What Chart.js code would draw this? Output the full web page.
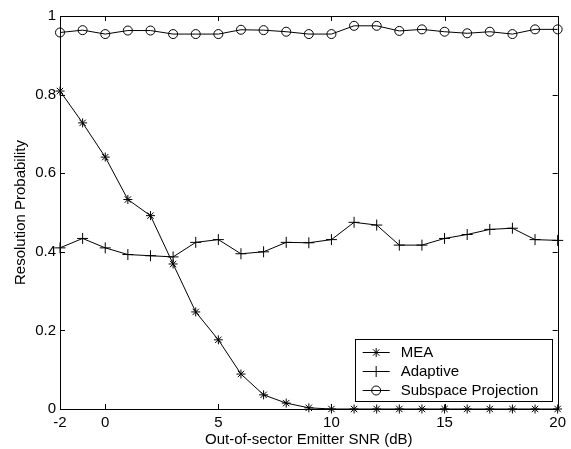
<!DOCTYPE html>
<html>
<head>
<meta charset="utf-8">
<script src="https://cdn.jsdelivr.net/npm/chart.js@4/dist/chart.umd.min.js"></script>
<style>
  html, body { margin: 0; padding: 0; background: #ffffff; }
  #wrap { width: 571px; height: 449px; }
</style>
</head>
<body>
<div id="wrap"><canvas id="c" width="571" height="449"></canvas></div>
<script>
const snr = [-2, -1, 0, 1, 2, 3, 4, 5, 6, 7, 8, 9, 10, 11, 12, 13, 14, 15, 16, 17, 18, 19, 20];
const mea = [0.809, 0.728, 0.641, 0.533, 0.492, 0.369, 0.247, 0.176, 0.089, 0.036, 0.015, 0.003, 0, 0, 0, 0, 0, 0, 0, 0, 0, 0, 0];
const adaptive = [0.410, 0.434, 0.410, 0.393, 0.390, 0.387, 0.424, 0.431, 0.395, 0.400, 0.424, 0.423, 0.431, 0.475, 0.468, 0.417, 0.417, 0.434, 0.444, 0.457, 0.460, 0.431, 0.429];
const subspace = [0.958, 0.964, 0.954, 0.963, 0.963, 0.954, 0.954, 0.954, 0.965, 0.964, 0.960, 0.954, 0.954, 0.975, 0.975, 0.962, 0.966, 0.960, 0.956, 0.960, 0.954, 0.966, 0.966];
const seriesNames = ['MEA', 'Adaptive', 'Subspace Projection'];
const xTicks = [-2, 0, 5, 10, 15, 20];
const yTicks = [0, 0.2, 0.4, 0.6, 0.8, 1];
const yTickLabels = ['0', '0.2', '0.4', '0.6', '0.8', '1'];
const xTitle = 'Out-of-sector Emitter SNR (dB)';
const yTitle = 'Resolution Probability';

const FONT = "'Liberation Sans', Arial, sans-serif";
const toXY = (vals) => snr.map((x, i) => ({ x: x, y: vals[i] }));

const styles = [
  { pointStyle: 'star', radius: 4.5 },
  { pointStyle: 'cross', radius: 5.5 },
  { pointStyle: 'circle', radius: 4.5 }
];

const frameTicks = {
  id: 'frameTicks',
  afterDatasetsDraw(chart) {
    const ctx = chart.ctx;
    const a = chart.chartArea;
    const xs = chart.scales.x, ys = chart.scales.y;
    ctx.save();
    ctx.strokeStyle = '#000';
    ctx.lineWidth = 1;
    ctx.strokeRect(Math.round(a.left) + 0.5, Math.round(a.top) + 0.5, Math.round(a.right - a.left), Math.round(a.bottom - a.top));
    const L = 5;
    ctx.beginPath();
    xTicks.forEach(v => {
      const px = Math.round(xs.getPixelForValue(v)) + 0.5;
      ctx.moveTo(px, a.bottom); ctx.lineTo(px, a.bottom - L);
      ctx.moveTo(px, a.top); ctx.lineTo(px, a.top + L);
    });
    yTicks.forEach(v => {
      const py = Math.round(ys.getPixelForValue(v)) + 0.5;
      ctx.moveTo(a.left, py); ctx.lineTo(a.left + L, py);
      ctx.moveTo(a.right, py); ctx.lineTo(a.right - L, py);
    });
    ctx.stroke();
    ctx.restore();
  }
};

const boxLegend = {
  id: 'boxLegend',
  afterDraw(chart) {
    const ctx = chart.ctx;
    const a = chart.chartArea;
    const right = a.right - 6, bottom = a.bottom - 8;
    const w = 197, h = 62;
    const left = right - w, top = bottom - h;
    ctx.save();
    ctx.fillStyle = '#fff';
    ctx.fillRect(left, top, w, h);
    ctx.strokeStyle = '#000';
    ctx.lineWidth = 1;
    ctx.strokeRect(Math.round(left) + 0.5, Math.round(top) + 0.5, w, h);
    ctx.font = '15px ' + FONT;
    ctx.textBaseline = 'middle';
    ctx.textAlign = 'left';
    seriesNames.forEach((name, i) => {
      const y = Math.round(top + 13 + i * 19) + 0.5;
      ctx.strokeStyle = '#000';
      ctx.beginPath();
      ctx.moveTo(left + 8, y); ctx.lineTo(left + 35, y);
      ctx.stroke();
      ctx.fillStyle = 'rgba(0,0,0,0)';
      Chart.helpers.drawPoint(ctx, { pointStyle: styles[i].pointStyle, radius: styles[i].radius, rotation: 0, borderWidth: 1 }, left + 21.5, y);
      ctx.fillStyle = '#000';
      ctx.fillText(name, left + 46, y + 0.5);
    });
    ctx.restore();
  }
};

const mk = (label, vals, st) => ({
  label: label,
  data: toXY(vals),
  borderColor: '#000',
  backgroundColor: 'rgba(0,0,0,0)',
  borderWidth: 1,
  pointStyle: st.pointStyle,
  pointRadius: st.radius,
  pointBorderColor: '#000',
  pointBackgroundColor: 'rgba(0,0,0,0)',
  pointBorderWidth: 1,
  tension: 0,
  clip: false
});

new Chart(document.getElementById('c'), {
  type: 'line',
  data: {
    datasets: [
      mk(seriesNames[0], mea, styles[0]),
      mk(seriesNames[1], adaptive, styles[1]),
      mk(seriesNames[2], subspace, styles[2])
    ]
  },
  options: {
    responsive: false,
    animation: false,
    events: [],
    layout: { padding: { top: 16, right: 13, left: 0, bottom: 0 } },
    plugins: { legend: { display: false }, tooltip: { enabled: false } },
    scales: {
      x: {
        type: 'linear',
        min: -2, max: 20,
        afterBuildTicks: (s) => { s.ticks = xTicks.map(v => ({ value: v })); },
        afterFit: (s) => { s.height = 40; },
        grid: { display: false, drawTicks: false },
        border: { display: true, color: '#000' },
        ticks: { color: '#000', font: { family: FONT, size: 15 }, padding: 5, maxRotation: 0, autoSkip: false,
                 callback: (v) => String(v) },
        title: { display: true, text: xTitle, color: '#000', font: { family: FONT, size: 15 }, padding: { top: 0, bottom: 0 } }
      },
      y: {
        type: 'linear',
        min: 0, max: 1,
        afterBuildTicks: (s) => { s.ticks = yTicks.map(v => ({ value: v })); },
        afterFit: (s) => { s.width = 60; },
        grid: { display: false, drawTicks: false },
        border: { display: true, color: '#000' },
        ticks: { color: '#000', font: { family: FONT, size: 15 }, padding: 4, autoSkip: false,
                 callback: (v) => { const i = yTicks.indexOf(v); return i >= 0 ? yTickLabels[i] : ''; } },
        title: { display: true, text: yTitle, color: '#000', font: { family: FONT, size: 15 }, padding: { top: 12, bottom: 0 } }
      }
    }
  },
  plugins: [frameTicks, boxLegend]
});
</script>
</body>
</html>
